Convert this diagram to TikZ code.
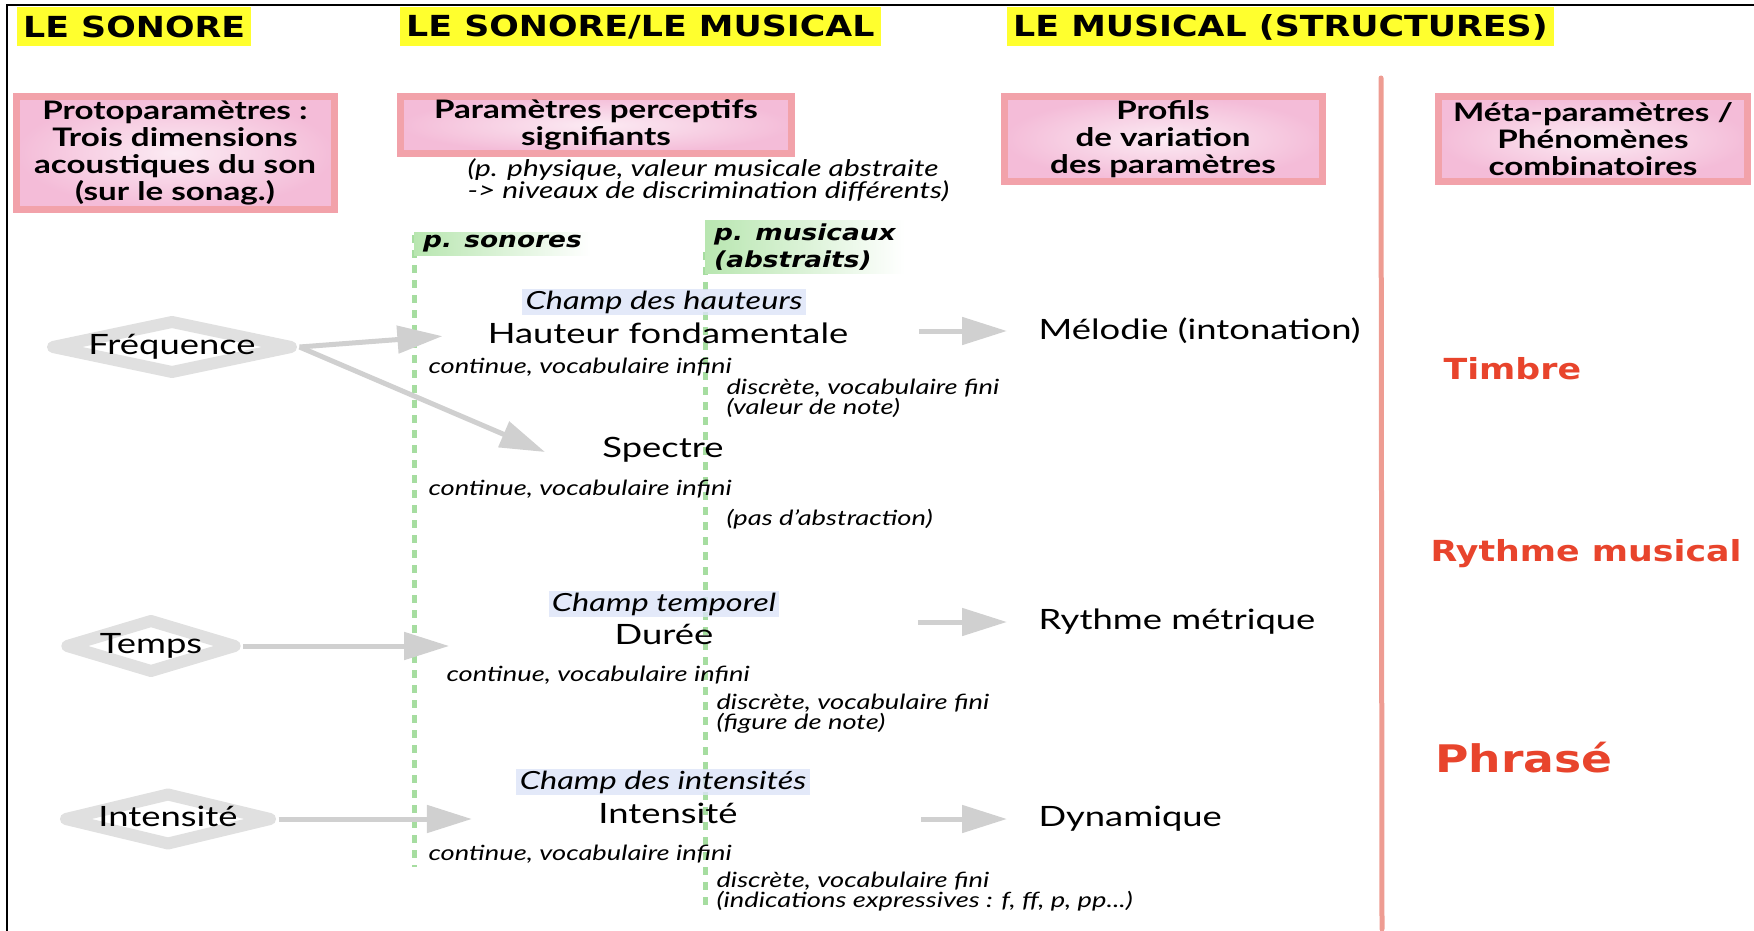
\documentclass[tikz,border=0pt]{standalone}
\usepackage{fontspec}
\setmainfont{Lato}[FakeStretch=1.3]
\newfontfamily\headfont{DejaVu Sans}[FakeStretch=1.2]
\usetikzlibrary{arrows.meta,shapes.geometric,calc}

\definecolor{jaune}{HTML}{FFFF2E}
\definecolor{rosebord}{HTML}{F2A2AA}
\definecolor{rosefond}{HTML}{F4BCD8}
\definecolor{vertfond}{HTML}{B8E6B0}
\definecolor{vertpointille}{HTML}{A6DDA0}
\definecolor{bleufond}{HTML}{DCE4F8}
\definecolor{grisfleche}{HTML}{D0D0D0}
\definecolor{grislosange}{HTML}{E0E0E0}
\definecolor{rougemeta}{HTML}{E8442C}
\definecolor{traitrouge}{HTML}{EE9C92}

\tikzset{
  entete/.style={fill=jaune, anchor=west, inner xsep=6pt, minimum height=39pt,
    font=\headfont\bfseries\fontsize{29}{32}\selectfont},
  cadre/.style={draw=rosebord, line width=7pt, inner color=white!70!rosefond,
    outer color=rosefond, align=center, font=\bfseries\fontsize{25.5}{27}\selectfont},
  remarque/.style={anchor=west, align=left, font=\itshape\fontsize{23}{22}\selectfont},
  etiquette/.style={anchor=west, inner xsep=9pt, align=left, left color=vertfond,
    right color=white, font=\headfont\bfseries\itshape\fontsize{22}{27}\selectfont},
  champ/.style={fill=bleufond, fill opacity=0.8, text opacity=1, inner ysep=2pt,
    font=\itshape\fontsize{25}{24}\selectfont},
  param/.style={font=\fontsize{28}{30}\selectfont},
  detail/.style={anchor=west, align=left, font=\itshape\fontsize{21}{19}\selectfont},
  proto/.style={diamond, aspect=5, draw=grislosange, line width=12pt, line join=round,
    fill=white, inner sep=0pt, text height=14pt, text depth=-8pt,
    font=\fontsize{28}{30}\selectfont},
  profil/.style={anchor=west, font=\fontsize{28}{30}\selectfont},
  meta/.style={anchor=west, text=rougemeta, font=\headfont\bfseries\fontsize{29}{32}\selectfont},
  flux/.style={draw=grisfleche, line width=5pt, -{Triangle[length=45pt,width=27pt]}},
  pointille/.style={draw=vertpointille, line width=5pt, dash pattern=on 8pt off 7pt}
}

\begin{document}
\begin{tikzpicture}[x=1pt, y=-1pt]
	\useasboundingbox (0,0) rectangle (1754,931);
	\draw[line width=2pt] (7,940) -- (7,5) -- (1760,5);

	% colonnes
	\draw[pointille] (414,235) -- (414,867);
	\draw[pointille] (705,252) -- (705,906);
	\draw[traitrouge, line width=5pt, line cap=round] (1381,78) -- (1382,929);

	% titres
	\node[entete] (hsonore) at (17,27) {LE SONORE};
	\node[entete] (hmixte) at (400,27) {LE SONORE/LE MUSICAL};
	\node[entete] (hmusical) at (1007,27) {LE MUSICAL (STRUCTURES)};

	\node[cadre, minimum width=318pt, minimum height=113pt] (protobox) at (175,153)
		{Protoparamètres :\\Trois dimensions\\acoustiques du son\\(sur le sonag.)};
	\node[cadre, minimum width=391pt, minimum height=57pt] (percept) at (596,125)
		{Paramètres perceptifs\\signifiants};
	\node[cadre, minimum width=318pt, minimum height=85pt] (profils) at (1163,139)
		{Profils\\de variation\\des paramètres};
	\node[cadre, minimum width=309pt, minimum height=85pt] (metabox) at (1593,139)
		{Méta-paramètres /\\Phénomènes\\combinatoires};
	\node[remarque] (rem) at (464,180)
		{(p. physique, valeur musicale abstraite\\-> niveaux de discrimination différents)};

	\node[etiquette] (psonores) at (414,244) {p. sonores};
	\node[etiquette] (pmusicaux) at (705,247) {p. musicaux\\(abstraits)};

	% protoparametres
	\node[proto, minimum width=243pt, minimum height=55pt] (freq) at (172,347) {Fréquence};
	\node[proto, minimum width=156pt, minimum height=55pt] (temps) at (151,646) {Temps};
	\node[proto, minimum width=207pt, minimum height=54pt] (intens) at (168,819) {Intensité};

	% champ des hauteurs
	\node[champ] (champH) at (664,302) {Champ des hauteurs};
	\node[param] (hauteur) at (668,333) {Hauteur fondamentale};
	\node[detail] (contH) at (425,367) {continue, vocabulaire infini};
	\node[detail] (discH) at (723,398) {discrète, vocabulaire fini\\(valeur de note)};
	\node[param] (spectre) at (663,450) {Spectre};
	\node[detail] (contS) at (425,489) {continue, vocabulaire infini};
	\node[detail] (discS) at (723,519) {(pas d'abstraction)};
	\coordinate (entreeS) at (545,452);

	% champ temporel
	\node[champ] (champT) at (664,604) {Champ temporel};
	\node[param] (duree) at (664,634) {Durée};
	\node[detail] (contD) at (443,675) {continue, vocabulaire infini};
	\node[detail] (discD) at (713,714) {discrète, vocabulaire fini\\(figure de note)};

	% champ des intensites
	\node[champ] (champI) at (663,782) {Champ des intensités};
	\node[param] (intensite) at (668,813) {Intensité};
	\node[detail] (contI) at (425,854) {continue, vocabulaire infini};
	\node[detail] (discI) at (713,892) {discrète, vocabulaire fini\\(indications expressives : f, ff, p, pp...)};

	% profils
	\node[profil] (melodie) at (1035,331) {Mélodie (intonation)};
	\node[profil] (rythme) at (1035,622) {Rythme métrique};
	\node[profil] (dynamique) at (1035,819) {Dynamique};

	% meta-parametres
	\node[meta] (timbre) at (1440,369) {Timbre};
	\node[meta] (rythmemus) at (1427,554) {Rythme musical};
	\node[meta, font=\headfont\bfseries\fontsize{38}{40}\selectfont] (phrase) at (1432,758) {Phrasé};

	\draw[flux, shorten >=42pt] (freq.east) -- (hauteur.west);
	\draw[flux] (freq.east) -- (entreeS);
	\draw[flux, shorten >=162pt] (temps.east) -- (temps.east -| duree.west);
	\draw[flux, shorten >=123pt] (intens.east) -- (intens.east -| intensite.west);

	\draw[flux, shorten <=67pt, shorten >=28pt] (hauteur.east |- melodie.west) -- (melodie.west);
	\draw[flux, shorten <=201pt, shorten >=28pt] (duree.east |- rythme.west) -- (rythme.west);
	\draw[flux, shorten <=180pt, shorten >=28pt] (intensite.east |- dynamique.west) -- (dynamique.west);
\end{tikzpicture}
\end{document}
